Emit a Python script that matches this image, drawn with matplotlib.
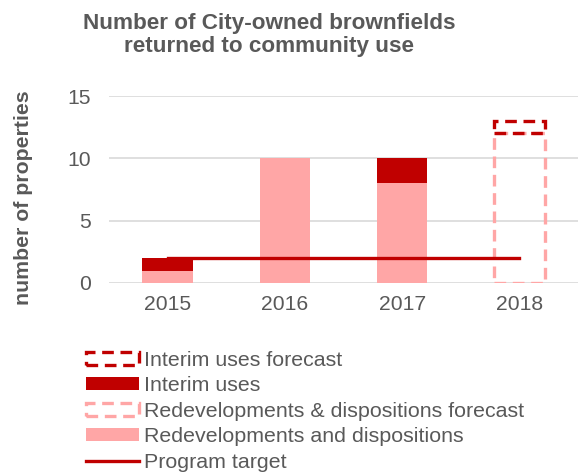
import numpy as np
import matplotlib
matplotlib.use("Agg")
import matplotlib.pyplot as plt

plt.rcParams['font.family'] = ['Liberation Sans', 'DejaVu Sans']

years = ['2015', '2016', '2017', '2018']
redev = [1, 10, 8, 0]
interim = [1, 0, 2, 0]
redev_forecast = [0, 0, 0, 12]
interim_forecast = [0, 0, 0, 1]
target = [2, 2, 2, 2]

dark = '#c00000'
pink = '#ffa6a6'
grey = '#595959'

fig = plt.figure(figsize=(5.78, 4.74), dpi=100)
ax = fig.add_axes([109 / 578, 1 - 283 / 474, 1 - 109 / 578, (283 - 96) / 474])

x = np.arange(len(years))
w = 0.43
redev = np.array(redev)
interim = np.array(interim)
redev_forecast = np.array(redev_forecast)
interim_forecast = np.array(interim_forecast)

b_redev = ax.bar(x, redev, w, color=pink, zorder=2,
                 label='Redevelopments and dispositions')
b_int = ax.bar(x, interim, w, bottom=redev, color=dark, zorder=2,
               label='Interim uses')

# forecast bars are outlines only; skip the empty years
m = redev_forecast > 0
b_rf = ax.bar(x[m], redev_forecast[m], w, fill=False, edgecolor=pink,
              linewidth=2.4, linestyle=(0, (3.5, 2)), zorder=3,
              label='Redevelopments & dispositions forecast')
m2 = interim_forecast > 0
b_if = ax.bar(x[m2], interim_forecast[m2], w, bottom=redev_forecast[m2],
              fill=False, edgecolor=dark, linewidth=2.4,
              linestyle=(0, (3.5, 2)), zorder=3,
              label='Interim uses forecast')

ln, = ax.plot(x, target, color=dark, linewidth=2.4, zorder=4,
              label='Program target')

ax.set_xlim(-0.5, 3.5)
ax.set_ylim(0, 15)
ax.set_yticks([0, 5, 10, 15])
ax.set_xticks(x)
ax.set_xticklabels(years)
ax.grid(axis='y', color='#d9d9d9', linewidth=1.2, zorder=0)
ax.set_axisbelow(True)
for s in ax.spines.values():
    s.set_visible(False)
ax.tick_params(length=0, labelsize=15.2, labelcolor=grey)
ax.tick_params(axis='y', pad=13)
ax.tick_params(axis='x', pad=9)

fig.text(269 / 578, 1 - 35 / 474,
         'Number of City-owned brownfields\nreturned to community use',
         ha='center', va='center', fontsize=16.2, fontweight='bold',
         color=grey, linespacing=1.08)
fig.text(23.5 / 578, 1 - 197.5 / 474, 'number of properties', rotation=90,
         ha='center', va='center', fontsize=15.3, fontweight='bold',
         color=grey)

fig.legend([b_if, b_int, b_rf, b_redev, ln],
           ['Interim uses forecast', 'Interim uses',
            'Redevelopments & dispositions forecast',
            'Redevelopments and dispositions', 'Program target'],
           loc='upper left', bbox_to_anchor=(86 / 578, 1 - 351 / 474),
           frameon=False, fontsize=15.4, labelcolor=grey,
           handlelength=2.5, handleheight=0.55, handletextpad=0.22,
           labelspacing=0.3, borderaxespad=0, borderpad=0)

fig.savefig('out.png', dpi=100)
